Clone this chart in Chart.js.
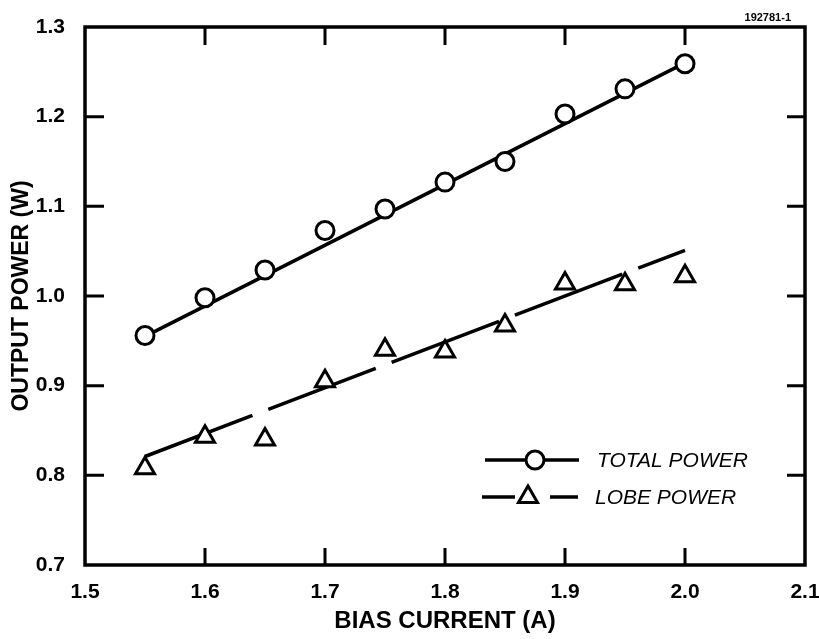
<!DOCTYPE html>
<html>
<head>
<meta charset="utf-8">
<script src="https://cdn.jsdelivr.net/npm/chart.js@4.4.0/dist/chart.umd.min.js"></script>
<style>
  html, body { margin: 0; padding: 0; background: #fff; }
  #wrap { width: 819px; height: 639px; position: relative; }
</style>
</head>
<body>
<div id="wrap"><canvas id="powerChart"></canvas></div>
<script>
// measured points: bias current (A) vs output power (W)
const biasCurrent = [1.55, 1.60, 1.65, 1.70, 1.75, 1.80, 1.85, 1.90, 1.95, 2.00];
const totalPower = [0.956, 0.998, 1.029, 1.073, 1.097, 1.127, 1.150, 1.203, 1.231, 1.259];
const lobePower = [0.808, 0.843, 0.840, 0.905, 0.940, 0.938, 0.967, 1.014, 1.013, 1.022];

// straight-line fits through each set
const fitCurrent = [1.55, 2.00];
const totalFit = [0.955, 1.260];
const lobeFit = [0.821, 1.051];

const xTicks = [1.5, 1.6, 1.7, 1.8, 1.9, 2.0, 2.1];
const yTicks = [0.7, 0.8, 0.9, 1.0, 1.1, 1.2, 1.3];

const seriesNames = ['TOTAL POWER', 'LOBE POWER'];
const figureId = '192781-1';

const FONT = "'Liberation Sans', Arial, Helvetica, sans-serif";
Chart.defaults.font.family = FONT;
Chart.defaults.color = '#000';

const toPoints = (xs, ys) => xs.map((x, i) => ({ x, y: ys[i] }));

// box around the plot with inward ticks on every side
const framePlugin = {
  id: 'frame',
  beforeDatasetsDraw(chart) {
    const { ctx, chartArea: a, scales } = chart;
    ctx.save();
    ctx.strokeStyle = '#000';
    ctx.lineCap = 'butt';
    ctx.lineWidth = 3;
    xTicks.slice(1, -1).forEach(v => {
      const px = scales.x.getPixelForValue(v);
      ctx.beginPath();
      ctx.moveTo(px, a.top); ctx.lineTo(px, a.top + 18);
      ctx.moveTo(px, a.bottom); ctx.lineTo(px, a.bottom - 17);
      ctx.stroke();
    });
    yTicks.slice(1, -1).forEach(v => {
      const py = scales.y.getPixelForValue(v);
      ctx.beginPath();
      ctx.moveTo(a.left, py); ctx.lineTo(a.left + 19, py);
      ctx.moveTo(a.right, py); ctx.lineTo(a.right - 18, py);
      ctx.stroke();
    });
    ctx.lineWidth = 3.5;
    ctx.strokeRect(a.left, a.top, a.right - a.left, a.bottom - a.top);

    ctx.font = 'bold 11px ' + FONT;
    ctx.fillStyle = '#000';
    ctx.textAlign = 'right';
    ctx.textBaseline = 'middle';
    ctx.fillText(figureId, a.right - 14, 18);
    ctx.restore();
  },
  afterDatasetsDraw(chart) {
    // legend sits inside the plot, lower right
    const { ctx, chartArea: a } = chart;
    const x0 = a.left + 400;
    const rows = [a.top + 433, a.top + 470];
    ctx.save();
    ctx.strokeStyle = '#000';
    ctx.fillStyle = '#fff';
    ctx.lineWidth = 3.5;

    ctx.beginPath();
    ctx.moveTo(x0, rows[0]); ctx.lineTo(x0 + 94, rows[0]);
    ctx.stroke();
    ctx.lineWidth = 3;
    Chart.helpers.drawPoint(ctx, { pointStyle: 'circle', radius: 9, rotation: 0, borderWidth: 3 }, x0 + 50, rows[0]);

    ctx.lineWidth = 3.5;
    ctx.beginPath();
    ctx.moveTo(x0 - 3, rows[1]); ctx.lineTo(x0 + 30, rows[1]);
    ctx.moveTo(x0 + 65, rows[1]); ctx.lineTo(x0 + 93, rows[1]);
    ctx.stroke();
    ctx.lineWidth = 3;
    Chart.helpers.drawPoint(ctx, { pointStyle: 'triangle', radius: 11, rotation: 0, borderWidth: 3 }, x0 + 43, rows[1]);

    ctx.fillStyle = '#000';
    ctx.font = 'italic 21px ' + FONT;
    ctx.textAlign = 'left';
    ctx.textBaseline = 'middle';
    ctx.fillText(seriesNames[0], x0 + 112, rows[0] + 1);
    ctx.fillText(seriesNames[1], x0 + 110, rows[1] + 1);
    ctx.restore();
  }
};

new Chart(document.getElementById('powerChart'), {
  type: 'scatter',
  data: {
    datasets: [
      {
        label: seriesNames[0],
        data: toPoints(biasCurrent, totalPower),
        showLine: false,
        pointStyle: 'circle',
        pointRadius: 9,
        pointBorderWidth: 3,
        pointBorderColor: '#000',
        pointBackgroundColor: '#fff',
        order: 0
      },
      {
        label: seriesNames[1],
        data: toPoints(biasCurrent, lobePower),
        showLine: false,
        pointStyle: 'triangle',
        pointRadius: 11,
        pointBorderWidth: 3,
        pointBorderColor: '#000',
        pointBackgroundColor: '#fff',
        order: 0
      },
      {
        label: 'total fit',
        data: toPoints(fitCurrent, totalFit),
        showLine: true,
        borderColor: '#000',
        borderWidth: 3.5,
        pointRadius: 0,
        order: 1
      },
      {
        label: 'lobe fit',
        data: toPoints(fitCurrent, lobeFit),
        showLine: true,
        borderColor: '#000',
        borderWidth: 3.5,
        borderDash: [115, 17],
        pointRadius: 0,
        order: 1
      }
    ]
  },
  options: {
    responsive: true,
    maintainAspectRatio: false,
    animation: false,
    devicePixelRatio: 1,
    layout: { padding: { top: 27, right: 12, left: 0, bottom: 0 } },
    plugins: {
      legend: { display: false },
      tooltip: { enabled: false }
    },
    scales: {
      x: {
        type: 'linear',
        min: 1.5,
        max: 2.1,
        afterBuildTicks: s => { s.ticks = xTicks.map(v => ({ value: v })); },
        afterFit: s => { s.height = 74; s.paddingRight = 0; s.paddingLeft = 0; },
        grid: { display: false },
        border: { display: false },
        ticks: {
          padding: 7,
          font: { size: 21, weight: 'bold' },
          callback: v => v.toFixed(1)
        },
        title: {
          display: true,
          text: 'BIAS CURRENT (A)',
          font: { size: 24, weight: 'bold' },
          padding: { top: 0, bottom: 3 }
        }
      },
      y: {
        type: 'linear',
        min: 0.7,
        max: 1.3,
        afterBuildTicks: s => { s.ticks = yTicks.map(v => ({ value: v })); },
        afterFit: s => { s.width = 85; s.paddingTop = 0; s.paddingBottom = 0; },
        grid: { display: false },
        border: { display: false },
        ticks: {
          padding: 12,
          font: { size: 21, weight: 'bold' },
          callback: v => v.toFixed(1)
        },
        title: {
          display: true,
          text: 'OUTPUT POWER (W)',
          font: { size: 23, weight: 'bold' },
          padding: { top: 8, bottom: 0 }
        }
      }
    }
  },
  plugins: [framePlugin]
});
</script>
</body>
</html>
